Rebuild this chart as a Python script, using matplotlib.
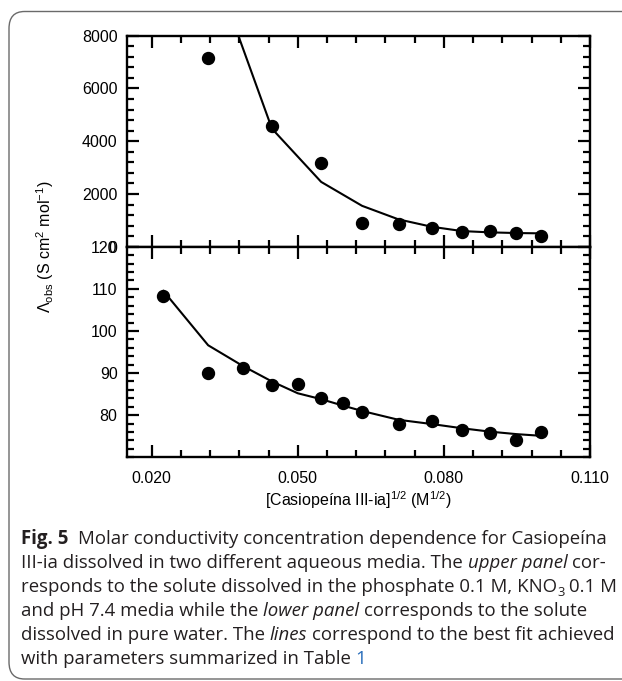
import matplotlib
matplotlib.use("Agg")
import matplotlib.pyplot as plt
from matplotlib.ticker import MultipleLocator, FixedLocator
from matplotlib.patches import FancyBboxPatch

# ---------------- data ----------------
x_upper = [0.0316, 0.0447, 0.0548, 0.0632, 0.0707, 0.0775, 0.0837, 0.0894, 0.0949, 0.1000]
y_upper = [7140, 4560, 3175, 907, 846, 695, 567, 582, 529, 404]
fit_upper = [11170, 4475, 2457, 1550, 1035, 756, 593, 544, 518, 506]

x_lower = [0.0224, 0.0316, 0.0387, 0.0447, 0.0500, 0.0548, 0.0592, 0.0632,
           0.0707, 0.0775, 0.0837, 0.0894, 0.0949, 0.1000]
y_lower = [108.3, 90.1, 91.1, 87.2, 87.4, 84.0, 82.8, 80.8,
           77.9, 78.7, 76.5, 75.8, 74.1, 76.1]
fit_lower = [109.5, 96.6, 91.7, 88.0, 85.2, 83.8, 82.3, 81.0,
             78.9, 77.9, 76.9, 76.1, 75.5, 75.1]

x_ticks = [0.020, 0.050, 0.080, 0.110]
x_ticklabels = ["0.020", "0.050", "0.080", "0.110"]
x_minor = [0.026, 0.032, 0.038, 0.044, 0.056, 0.062, 0.068, 0.074,
           0.086, 0.092, 0.098, 0.104]
upper_yticks = [0, 2000, 4000, 6000, 8000]
lower_yticks = [80, 90, 100, 110, 120]

xlabel = r"[Casiopeína III-ia]$^{1/2}$ (M$^{1/2}$)"
ylabel = r"Λ$_{\mathrm{obs}}$ (S cm$^{2}$ mol$^{-1}$)"

caption_lines = [
    [("Fig. 5", "b"), ("  Molar conductivity concentration dependence for Casiopeína", "r")],
    [("III-ia dissolved in two different aqueous media. The ", "r"), ("upper panel", "i"), (" cor-", "r")],
    [("responds to the solute dissolved in the phosphate 0.1 M, KNO", "r"), ("3", "sub"), (" 0.1 M", "r")],
    [("and pH 7.4 media while the ", "r"), ("lower panel", "i"), (" corresponds to the solute", "r")],
    [("dissolved in pure water. The ", "r"), ("lines", "i"), (" correspond to the best fit achieved", "r")],
    [("with parameters summarized in Table ", "r"), ("1", "link")],
]

# ---------------- style ----------------
plt.rcParams["font.family"] = ["Liberation Sans", "DejaVu Sans"]
plt.rcParams["mathtext.fontset"] = "custom"
plt.rcParams["mathtext.rm"] = "Liberation Sans"
plt.rcParams["mathtext.it"] = "Liberation Sans:italic"
plt.rcParams["mathtext.bf"] = "Liberation Sans:bold"

W, H = 622, 681
fig = plt.figure(figsize=(W / 100, H / 100), dpi=100)

# border box (rounded, extends past right edge)
box = FancyBboxPatch((9 / W, 1 - 679 / H), (W + 40) / W, (679 - 11.5) / H,
                     boxstyle="round,pad=0,rounding_size=0.025",
                     transform=fig.transFigure, facecolor="none",
                     edgecolor="#6a6a6a", linewidth=1.0, clip_on=False)
fig.patches.append(box)

left, right = 127.3, 590
top_u, mid, bot_l = 35.7, 246.7, 457.3
ax_u = fig.add_axes([left / W, 1 - mid / H, (right - left) / W, (mid - top_u) / H])
ax_l = fig.add_axes([left / W, 1 - bot_l / H, (right - left) / W, (bot_l - mid) / H])

tick_fs = 11.5
for ax in (ax_u, ax_l):
    ax.set_xlim(0.015, 0.110)
    ax.xaxis.set_major_locator(FixedLocator(x_ticks))
    ax.xaxis.set_minor_locator(FixedLocator(x_minor))
    ax.tick_params(which="both", direction="in", top=True, right=True, width=1.6)
    ax.tick_params(which="major", length=8.5)
    ax.tick_params(which="minor", length=4.8)
    ax.tick_params(axis="y", labelsize=tick_fs, pad=7)
    ax.tick_params(axis="x", labelsize=tick_fs, pad=10)
    for s in ax.spines.values():
        s.set_linewidth(1.7)

# upper
ax_u.plot(x_upper, fit_upper, color="black", lw=1.5, zorder=2)
ax_u.plot(x_upper, y_upper, "o", color="black", ms=8.6, zorder=3)
ax_u.set_ylim(0, 8000)
ax_u.yaxis.set_major_locator(FixedLocator(upper_yticks))
ax_u.yaxis.set_minor_locator(MultipleLocator(400))
ax_u.set_yticklabels([str(v) for v in upper_yticks])
ax_u.tick_params(axis="x", labelbottom=False)

# lower
ax_l.plot(x_lower, fit_lower, color="black", lw=1.5, zorder=2)
ax_l.plot(x_lower, y_lower, "o", color="black", ms=8.6, zorder=3)
ax_l.set_ylim(70, 120)
ax_l.yaxis.set_major_locator(FixedLocator(lower_yticks))
ax_l.yaxis.set_minor_locator(MultipleLocator(2))
ax_l.set_yticklabels([str(v) for v in lower_yticks])
ax_l.set_xticklabels(x_ticklabels)

fig.text(358.6 / W, 1 - 500 / H, xlabel, ha="center", va="center", fontsize=tick_fs)
fig.text(45.5 / W, 1 - 246.5 / H, ylabel, ha="center", va="center",
         rotation=90, fontsize=tick_fs)

# ---------------- caption ----------------
fig.canvas.draw()
renderer = fig.canvas.get_renderer()
cap_family = "Open Sans"


def props(style, size):
    d = dict(family=cap_family, fontsize=size, color="#231f20")
    if style == "b":
        d["weight"] = "bold"
    elif style == "i":
        d["style"] = "italic"
    elif style == "sub":
        d["fontsize"] = size * 0.7
    elif style == "link":
        d["color"] = "#2a6ebb"
    return d


def measure(text, style, size):
    t = fig.text(0, 0, text, **props(style, size))
    w = t.get_window_extent(renderer).width
    t.remove()
    return w


def space_w(style, size):
    return measure("x x", style, size) - measure("xx", style, size)


def seg_width(text, style, size):
    core = text.strip(" ")
    lead = len(text) - len(text.lstrip(" "))
    trail = len(text) - len(text.rstrip(" "))
    sw = space_w(style, size)
    return lead * sw, (measure(core, style, size) if core else 0), trail * sw


def line_width(segs, size):
    tot = 0
    for text, style in segs:
        a, b, c = seg_width(text, style, size)
        tot += a + b + c
    return tot


base = 10.0
target = 607 - 21
cap_size = base * target / line_width(caption_lines[0], base)

x0 = 21
baselines = [544, 568, 592.5, 616.5, 640.5, 664.5]
for segs, yb in zip(caption_lines, baselines):
    x = x0
    for text, style in segs:
        a, b, c = seg_width(text, style, cap_size)
        x += a
        core = text.strip(" ")
        if core:
            yy = yb + (3 if style == "sub" else 0)
            fig.text(x / W, 1 - yy / H, core, va="baseline", ha="left",
                     **props(style, cap_size))
        x += b + c

fig.savefig("out.png", dpi=100)
